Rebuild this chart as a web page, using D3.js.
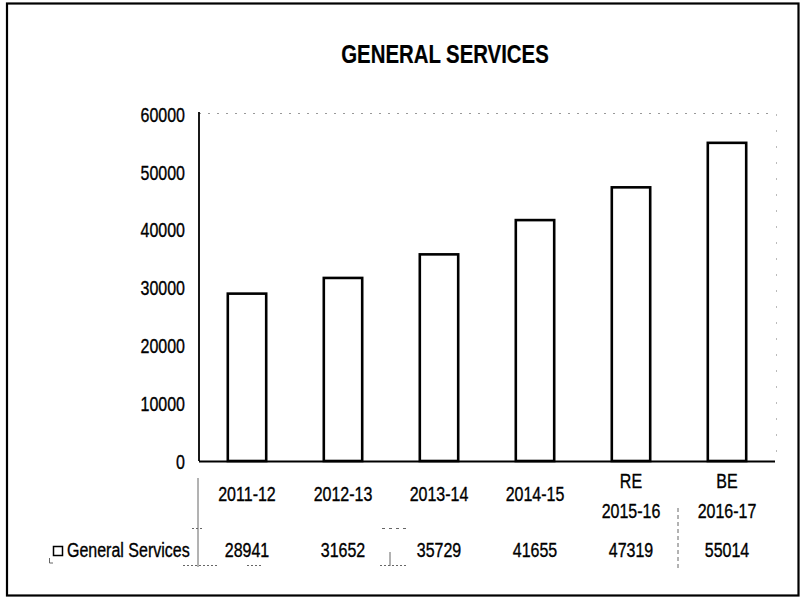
<!DOCTYPE html>
<html><head><meta charset="utf-8">
<script src="https://cdn.jsdelivr.net/npm/d3@7"></script>
<style>
html,body{margin:0;padding:0;background:#fff;}
text{font-family:"Liberation Sans",Arial,sans-serif;fill:#000;stroke:#000;stroke-width:0.35px;}
</style></head>
<body>
<svg id="chart" width="803" height="599"></svg>
<script>
const title = "GENERAL SERVICES";
const seriesName = "General Services";
const categories = [["2011-12"],["2012-13"],["2013-14"],["2014-15"],["RE","2015-16"],["BE","2016-17"]];
const values = [28941, 31652, 35729, 41655, 47319, 55014];
const yTicks = [0, 10000, 20000, 30000, 40000, 50000, 60000];

(function(){
const svg = d3.select("#chart");
// narrow a text element horizontally around its anchor point
function narrow(sel, k){
  sel.each(function(){
    const t = d3.select(this);
    const tx = +t.attr("x") || 0;
    t.attr("transform", `translate(${tx},0) scale(${k},1) translate(${-tx},0)`);
  });
}
// outer frame
svg.append("rect").attr("x",7).attr("y",3.5).attr("width",791.5).attr("height",592)
  .attr("fill","none").attr("stroke","#000").attr("stroke-width",2.2);

const tt = svg.append("text").attr("x",445).attr("y",63).attr("text-anchor","middle")
  .attr("font-size",25).attr("font-weight","bold").style("stroke-width","0.2px").text(title);
narrow(tt, 0.815);

const pL = 199, pR = 775, pT = 114, pB = 461;
const x = d3.scaleBand().domain(d3.range(categories.length)).range([pL,pR]).paddingInner(0.6).paddingOuter(0.3);
const xc = d3.scaleBand().domain(d3.range(categories.length)).range([pL,pR]);
const y = d3.scaleLinear().domain([0,60000]).range([pB,pT]);

// plot area faint border
svg.append("line").attr("x1",pL).attr("x2",pR).attr("y1",pT-0.5).attr("y2",pT-0.5)
  .attr("stroke","#999").attr("stroke-width",1).attr("stroke-dasharray","2,7");
svg.append("line").attr("x1",pR+1.5).attr("x2",pR+1.5).attr("y1",pT).attr("y2",pB)
  .attr("stroke","#bbb").attr("stroke-width",1).attr("stroke-dasharray","2,14");

// y axis
const yAxis = d3.axisLeft(y).tickValues(yTicks).tickSize(0).tickPadding(14).tickFormat(d3.format("d"));
const ga = svg.append("g").attr("transform",`translate(${pL},0)`).call(yAxis);
ga.attr("font-family",null).attr("font-size",null);
ga.select(".domain").attr("stroke","#000").attr("stroke-width",1.8).attr("d",`M0,${pT-2}V${pB}`);
ga.selectAll(".tick text").attr("font-size",20).attr("dy","0.36em")
  .attr("transform",`translate(-14,0) scale(0.8,1) translate(14,0)`);

// bars
svg.append("g").selectAll("rect").data(values).join("rect")
  .attr("x",(d,i)=>x(i)).attr("width",x.bandwidth())
  .attr("y",d=>y(d)).attr("height",d=>pB-y(d))
  .attr("fill","#fff").attr("stroke","#000").attr("stroke-width",2.6);

// baseline
svg.append("line").attr("x1",pL).attr("x2",pR).attr("y1",pB+0.5).attr("y2",pB+0.5)
  .attr("stroke","#000").attr("stroke-width",1.8);

// category labels
const cat = svg.append("g").selectAll("text").data(categories).join("text")
  .attr("text-anchor","middle").attr("font-size",20)
  .attr("x",(d,i)=>xc(i)+xc.bandwidth()/2);
cat.each(function(d){
  const t = d3.select(this);
  const y0 = d.length===1 ? 501 : 488;
  d.forEach((s,k)=>t.append("tspan").attr("x",t.attr("x")).attr("y",y0+k*30).text(s));
});
narrow(cat, 0.8);

// data table values
const vals = svg.append("g").selectAll("text").data(values).join("text")
  .attr("text-anchor","middle").attr("font-size",20)
  .attr("x",(d,i)=>xc(i)+xc.bandwidth()/2).attr("y",557).text(d=>d);
narrow(vals, 0.8);

// legend key + series name
svg.append("rect").attr("x",53.5).attr("y",546.5).attr("width",9).attr("height",9)
  .attr("fill","#fff").attr("stroke","#000").attr("stroke-width",1.5);
const lt = svg.append("text").attr("x",67).attr("y",557).attr("font-size",20).text(seriesName);
narrow(lt, 0.8);

// faint table lines (scanned data-table grid remnants)
const tl = svg.append("g").attr("stroke","#666").attr("stroke-width",1);
tl.append("line").attr("x1",pL-1).attr("x2",pL-1).attr("y1",478).attr("y2",567);
tl.append("line").attr("x1",678).attr("x2",678).attr("y1",508).attr("y2",568).attr("stroke-dasharray","4,3");
tl.append("line").attr("x1",183).attr("x2",217).attr("y1",565.5).attr("y2",565.5).attr("stroke-dasharray","2,2");
tl.append("line").attr("x1",247).attr("x2",262).attr("y1",565.5).attr("y2",565.5).attr("stroke-dasharray","2,2");
tl.append("line").attr("x1",192).attr("x2",203).attr("y1",528.5).attr("y2",528.5).attr("stroke-dasharray","2,2");
tl.append("line").attr("x1",380).attr("x2",407).attr("y1",565.5).attr("y2",565.5).attr("stroke-dasharray","2,2");
tl.append("line").attr("x1",382).attr("x2",407).attr("y1",528.5).attr("y2",528.5).attr("stroke-dasharray","3,4");
tl.append("line").attr("x1",390).attr("x2",390).attr("y1",552).attr("y2",566);
tl.append("path").attr("fill","none").attr("d","M49.5,558V563H53");
})();
</script>
</body></html>
